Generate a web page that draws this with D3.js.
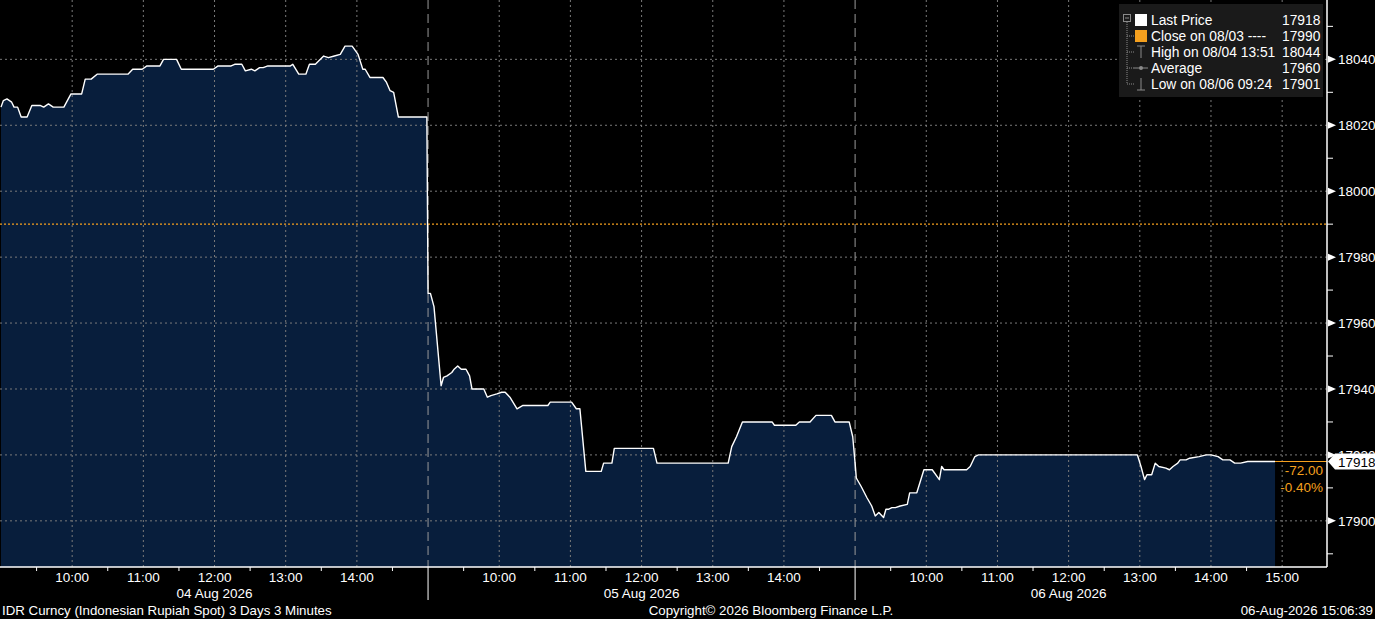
<!DOCTYPE html>
<html>
<head>
<meta charset="utf-8">
<script src="https://cdnjs.cloudflare.com/ajax/libs/d3/7.8.5/d3.min.js"></script>
<style>
html, body { margin: 0; padding: 0; background: #000; overflow: hidden; }
svg { display: block; font-family: 'Liberation Sans', Arial, sans-serif; }
</style>
</head>
<body>
<div id="chart"></div>
<script>
var width = 1375, height = 619;
var plotRight = 1327, plotBottom = 567;

// session days, 09:00 - 15:00 each
var dayLabels = ['04 Aug 2026', '05 Aug 2026', '06 Aug 2026'];
var hourLabels = ['10:00', '11:00', '12:00', '13:00', '14:00'];
var halfHourTicks = ['09:30', '10:30', '11:30', '12:30', '13:30', '14:30'];
var yTicks = [17900, 17920, 17940, 17960, 17980, 18000, 18020, 18040];
var yMinorTicks = [17890, 17910, 17930, 17950, 17970, 17990, 18010, 18030, 18050];

var day1Prices = [
	['09:00', 18025.5], ['09:02', 18027.5], ['09:05', 18028], ['09:09', 18027], ['09:11', 18025.5],
	['09:14', 18025.5], ['09:17', 18022.5], ['09:22', 18022.5], ['09:26', 18026], ['09:33', 18026],
	['09:36', 18025.5], ['09:40', 18026.5], ['09:44', 18025.5], ['09:53', 18025.5], ['09:59', 18029.5],
	['10:08', 18029.5], ['10:11', 18034], ['10:16', 18034], ['10:21', 18035.5], ['10:47', 18035.5],
	['10:51', 18037], ['10:59', 18037], ['11:03', 18038], ['11:14', 18038], ['11:17', 18040],
	['11:28', 18040], ['11:32', 18037], ['11:59', 18037], ['12:03', 18038], ['12:14', 18038],
	['12:17', 18038.5], ['12:23', 18038.5], ['12:26', 18036.5], ['12:31', 18037], ['12:34', 18036.5],
	['12:38', 18037.5], ['12:41', 18037.5], ['12:45', 18038], ['13:04', 18038], ['13:06', 18038.5],
	['13:11', 18035.5], ['13:17', 18035.5], ['13:20', 18038.5], ['13:25', 18038.5], ['13:32', 18041],
	['13:36', 18040.5], ['13:41', 18041], ['13:46', 18041.5], ['13:50', 18044], ['13:56', 18044],
	['14:01', 18041.5], ['14:05', 18037], ['14:07', 18037], ['14:11', 18034.5], ['14:22', 18034.5],
	['14:25', 18033], ['14:28', 18030.5], ['14:31', 18030], ['14:35', 18022.5], ['14:59', 18022.5]
];

var day2Prices = [
	['09:00', 17969], ['09:02', 17969], ['09:05', 17965], ['09:11', 17941], ['09:13', 17943.5],
	['09:16', 17944], ['09:20', 17945], ['09:22', 17946], ['09:25', 17947], ['09:28', 17946],
	['09:32', 17946], ['09:35', 17944], ['09:37', 17940], ['09:47', 17940], ['09:50', 17937.5],
	['09:53', 17938], ['09:58', 17938.5], ['10:02', 17939], ['10:05', 17939], ['10:09', 17937.5],
	['10:15', 17934], ['10:20', 17935], ['10:41', 17935], ['10:43', 17936], ['11:01', 17936],
	['11:05', 17934], ['11:08', 17934], ['11:13', 17915], ['11:26', 17915], ['11:28', 17917.5],
	['11:35', 17917.5], ['11:37', 17922], ['12:10', 17922], ['12:13', 17917.5], ['13:13', 17917.5],
	['13:16', 17922.5], ['13:20', 17925.5], ['13:25', 17930], ['13:50', 17930], ['13:52', 17929],
	['14:10', 17929], ['14:13', 17930], ['14:22', 17930], ['14:27', 17932], ['14:40', 17932],
	['14:43', 17930], ['14:55', 17930], ['14:58', 17925.5]
];

var day3Prices = [
	['09:00', 17917.5], ['09:01', 17913], ['09:05', 17910.5], ['09:10', 17907], ['09:14', 17904.5],
	['09:17', 17901.5], ['09:20', 17902.5], ['09:24', 17901], ['09:26', 17903.5], ['09:28', 17903.5],
	['09:31', 17904], ['09:34', 17904], ['09:38', 17904.5], ['09:44', 17905], ['09:46', 17908.5],
	['09:52', 17908.5], ['09:58', 17915.5], ['10:05', 17915.5], ['10:11', 17912.5], ['10:13', 17916.5],
	['10:15', 17915.5], ['10:34', 17915.5], ['10:37', 17916.5], ['10:41', 17919.5], ['10:44', 17920],
	['12:58', 17920], ['13:01', 17916.5], ['13:04', 17912.5], ['13:06', 17914], ['13:10', 17914],
	['13:13', 17917.5], ['13:16', 17916.5], ['13:22', 17916], ['13:25', 17915.5], ['13:28', 17916.5],
	['13:32', 17917.5], ['13:34', 17918.5], ['13:39', 17918.5], ['13:42', 17919], ['13:50', 17919.5],
	['13:56', 17920], ['14:00', 17920], ['14:06', 17919.5], ['14:10', 17918.5], ['14:16', 17918.5],
	['14:20', 17917.5], ['14:25', 17917.5], ['14:31', 17918], ['14:54', 17918]
];

var closePrice = 17990;
var lastPrice = 17918;
var netChange = '-72.00';
var pctChange = '-0.40%';

var legendLabels = ['Last Price', 'Close on 08/03 ----', 'High on 08/04 13:51', 'Average', 'Low on 08/06 09:24'];
var legendValues = [17918, 17990, 18044, 17960, 17901];

var orange = '#f5a01e';
var gridColor = '#7a7a7a';

/**
 * hours since first session open, each session is 6 hours long
 **/
function sessionHours(day, hhmm) {
	var parts = hhmm.split(':');
	return day * 6 + (+parts[0] - 9) + (+parts[1]) / 60;
}

function init() {
	var svg = d3.select('#chart').append('svg')
		.attr('width', width)
		.attr('height', height);

	svg.append('rect').attr('width', width).attr('height', height).attr('fill', '#000');

	var x = d3.scaleLinear().domain([0, 18.63]).range([1, plotRight]);
	var y = d3.scaleLinear().domain([17886, 18058]).range([plotBottom, 0]);

	var points = [];
	[day1Prices, day2Prices, day3Prices].forEach(function(prices, day) {
		prices.forEach(function(p) {
			points.push({'t': sessionHours(day, p[0]), 'v': p[1]});
		});
	});

	// filled area under price
	var area = d3.area()
		.x(function(d) { return x(d.t); })
		.y0(plotBottom)
		.y1(function(d) { return y(d.v); });
	svg.append('path').datum(points).attr('d', area).attr('fill', '#081e3c');

	// horizontal grid
	svg.append('g').selectAll('line').data(yTicks).enter().append('line')
		.attr('x1', 0).attr('x2', plotRight)
		.attr('y1', function(d) { return y(d); }).attr('y2', function(d) { return y(d); })
		.attr('stroke', gridColor).attr('stroke-width', 1).attr('stroke-dasharray', '2,3');

	// vertical hour grid
	var hourPositions = [];
	dayLabels.forEach(function(label, day) {
		hourLabels.forEach(function(h) {
			hourPositions.push({'t': sessionHours(day, h), 'label': h});
		});
	});
	hourPositions.push({'t': sessionHours(2, '15:00'), 'label': '15:00'});

	svg.append('g').selectAll('line').data(hourPositions).enter().append('line')
		.attr('x1', function(d) { return x(d.t); }).attr('x2', function(d) { return x(d.t); })
		.attr('y1', 0).attr('y2', plotBottom)
		.attr('stroke', gridColor).attr('stroke-width', 1).attr('stroke-dasharray', '2,3');

	// day separators
	var separators = [6, 12];
	svg.append('g').selectAll('line').data(separators).enter().append('line')
		.attr('x1', function(d) { return x(d); }).attr('x2', function(d) { return x(d); })
		.attr('y1', 0).attr('y2', plotBottom)
		.attr('stroke', '#9a9a9a').attr('stroke-width', 1).attr('stroke-dasharray', '9,5');
	svg.append('g').selectAll('line').data(separators).enter().append('line')
		.attr('x1', function(d) { return x(d); }).attr('x2', function(d) { return x(d); })
		.attr('y1', plotBottom).attr('y2', 600)
		.attr('stroke', '#fff').attr('stroke-width', 1);

	// previous close
	svg.append('line')
		.attr('x1', 0).attr('x2', plotRight)
		.attr('y1', y(closePrice)).attr('y2', y(closePrice))
		.attr('stroke', orange).attr('stroke-width', 1.2).attr('stroke-dasharray', '2,2');

	// price line
	var line = d3.line()
		.x(function(d) { return x(d.t); })
		.y(function(d) { return y(d.v); });
	svg.append('path').datum(points).attr('d', line)
		.attr('fill', 'none').attr('stroke', '#fff').attr('stroke-width', 1.4)
		.attr('stroke-linejoin', 'round');

	// last price to axis
	var last = points[points.length - 1];
	svg.append('line')
		.attr('x1', x(last.t)).attr('x2', plotRight)
		.attr('y1', y(lastPrice)).attr('y2', y(lastPrice))
		.attr('stroke', orange).attr('stroke-width', 1);
	svg.append('text').attr('x', plotRight - 4).attr('y', y(lastPrice) + 13)
		.attr('text-anchor', 'end').attr('fill', orange).attr('font-size', 13.5).text(netChange);
	svg.append('text').attr('x', plotRight - 4).attr('y', y(lastPrice) + 30)
		.attr('text-anchor', 'end').attr('fill', orange).attr('font-size', 13.5).text(pctChange);

	// axes lines
	svg.append('line').attr('x1', plotRight).attr('x2', plotRight).attr('y1', 0).attr('y2', plotBottom)
		.attr('stroke', '#fff').attr('stroke-width', 1.5);
	svg.append('line').attr('x1', 0).attr('x2', plotRight).attr('y1', plotBottom).attr('y2', plotBottom)
		.attr('stroke', '#fff').attr('stroke-width', 1.5);

	// right axis
	var yAxis = svg.append('g');
	yAxis.selectAll('path.tri').data(yTicks).enter().append('path')
		.attr('d', function(d) { var yy = y(d); return 'M' + (plotRight + 1) + ',' + (yy - 3.5) + 'L' + (plotRight + 9) + ',' + yy + 'L' + (plotRight + 1) + ',' + (yy + 3.5) + 'Z'; })
		.attr('fill', '#fff');
	yAxis.selectAll('line.minor').data(yMinorTicks).enter().append('line')
		.attr('x1', plotRight).attr('x2', plotRight + 6)
		.attr('y1', function(d) { return y(d); }).attr('y2', function(d) { return y(d); })
		.attr('stroke', '#fff').attr('stroke-width', 1);
	yAxis.selectAll('text').data(yTicks).enter().append('text')
		.attr('x', plotRight + 11).attr('y', function(d) { return y(d) + 5; })
		.attr('fill', '#fff').attr('font-size', 13.5).text(function(d) { return d; });

	// last price tag, sits over the 17920 label as in the terminal
	var ly = y(lastPrice);
	svg.append('path')
		.attr('d', 'M' + (plotRight + 1) + ',' + ly + 'L' + (plotRight + 8) + ',' + (ly - 8) + 'L' + width + ',' + (ly - 8) + 'L' + width + ',' + (ly + 8) + 'L' + (plotRight + 8) + ',' + (ly + 8) + 'Z')
		.attr('fill', '#fff');
	svg.append('text').attr('x', plotRight + 11).attr('y', ly + 5)
		.attr('fill', '#000').attr('font-size', 13.5).text(lastPrice);

	// bottom axis
	var halfTicks = [];
	dayLabels.forEach(function(label, day) {
		halfHourTicks.forEach(function(h) { halfTicks.push(sessionHours(day, h)); });
	});
	svg.append('g').selectAll('line').data(halfTicks).enter().append('line')
		.attr('x1', function(d) { return x(d); }).attr('x2', function(d) { return x(d); })
		.attr('y1', plotBottom).attr('y2', plotBottom + 4)
		.attr('stroke', '#fff').attr('stroke-width', 1);
	svg.append('g').selectAll('text').data(hourPositions).enter().append('text')
		.attr('x', function(d) { return x(d.t); }).attr('y', 582)
		.attr('text-anchor', 'middle').attr('fill', '#fff').attr('font-size', 13.5)
		.text(function(d) { return d.label; });
	svg.append('g').selectAll('text').data(dayLabels).enter().append('text')
		.attr('x', function(d, i) { return x(sessionHours(i, '12:00')); }).attr('y', 598)
		.attr('text-anchor', 'middle').attr('fill', '#fff').attr('font-size', 13.5)
		.text(function(d) { return d; });

	// footer
	svg.append('text').attr('x', 2).attr('y', 615).attr('fill', '#fff').attr('font-size', 13.3)
		.text('IDR Curncy (Indonesian Rupiah Spot) 3 Days 3 Minutes');
	svg.append('text').attr('x', 771).attr('y', 615).attr('text-anchor', 'middle').attr('fill', '#fff').attr('font-size', 13.3)
		.text('Copyright\u00a9 2026 Bloomberg Finance L.P.');
	svg.append('text').attr('x', 1373).attr('y', 615).attr('text-anchor', 'end').attr('fill', '#fff').attr('font-size', 13.3)
		.text('06-Aug-2026 15:06:39');

	drawLegend(svg);
}

/**
 * legend box, top right
 **/
function drawLegend(svg) {
	var g = svg.append('g');
	g.append('rect').attr('x', 1119).attr('y', 4).attr('width', 204).attr('height', 93).attr('fill', '#1a1a1a');

	var rowY = [20, 36, 52, 68, 84];
	var treeColor = '#8a8a8a';

	// collapse box and tree
	g.append('rect').attr('x', 1123.5).attr('y', 14.5).attr('width', 7).attr('height', 7)
		.attr('fill', 'none').attr('stroke', treeColor);
	g.append('line').attr('x1', 1125).attr('x2', 1129).attr('y1', 18).attr('y2', 18).attr('stroke', treeColor);
	g.append('line').attr('x1', 1127).attr('x2', 1127).attr('y1', 22).attr('y2', rowY[4])
		.attr('stroke', treeColor).attr('stroke-dasharray', '1,1');
	g.selectAll('line.branch').data(rowY.slice(1)).enter().append('line')
		.attr('x1', 1127).attr('x2', 1134)
		.attr('y1', function(d) { return d; }).attr('y2', function(d) { return d; })
		.attr('stroke', treeColor).attr('stroke-dasharray', '1,1');

	// icons
	g.append('rect').attr('x', 1135).attr('y', rowY[0] - 6).attr('width', 12).attr('height', 12).attr('fill', '#fff');
	g.append('rect').attr('x', 1135).attr('y', rowY[1] - 6).attr('width', 12).attr('height', 12).attr('fill', orange);
	g.append('path').attr('d', 'M1137,' + (rowY[2] - 6) + 'H1145M1141,' + (rowY[2] - 6) + 'V' + (rowY[2] + 6))
		.attr('stroke', treeColor).attr('fill', 'none');
	g.append('path').attr('d', 'M1134,' + rowY[3] + 'H1148').attr('stroke', treeColor);
	g.append('circle').attr('cx', 1141).attr('cy', rowY[3]).attr('r', 2).attr('fill', treeColor);
	g.append('path').attr('d', 'M1141,' + (rowY[4] - 6) + 'V' + (rowY[4] + 6) + 'M1137,' + (rowY[4] + 6) + 'H1145')
		.attr('stroke', treeColor).attr('fill', 'none');

	g.selectAll('text.label').data(legendLabels).enter().append('text')
		.attr('x', 1151).attr('y', function(d, i) { return rowY[i] + 5; })
		.attr('fill', '#fff').attr('font-size', 13.8).text(function(d) { return d; });
	g.selectAll('text.value').data(legendValues).enter().append('text')
		.attr('x', 1282).attr('y', function(d, i) { return rowY[i] + 5; })
		.attr('fill', '#fff').attr('font-size', 13.8).text(function(d) { return d; });
}

document.addEventListener('DOMContentLoaded', init, false);
</script>
</body>
</html>
